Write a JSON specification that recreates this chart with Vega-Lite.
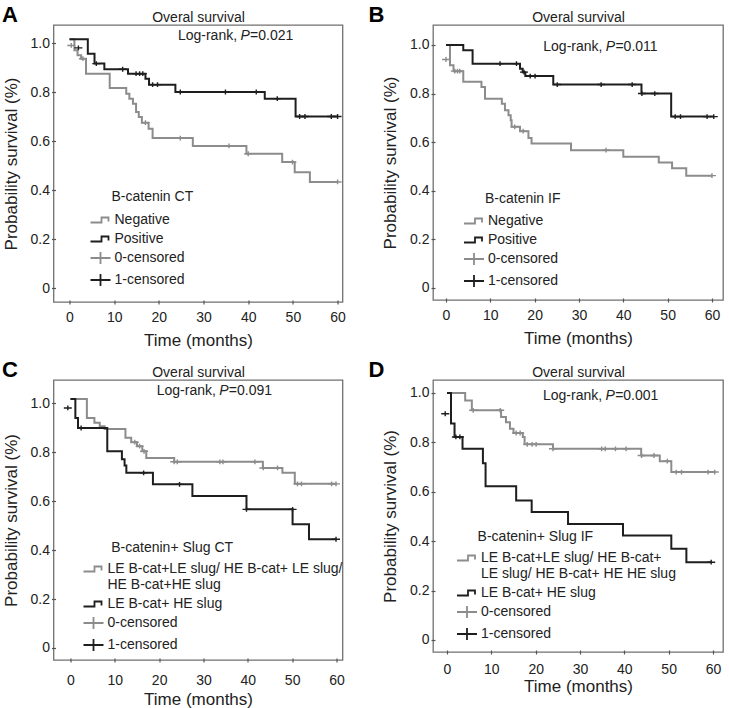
{
  "$schema": "https://vega.github.io/schema/vega-lite/v6.json",
  "padding": {"left": 0.5, "top": 3, "right": 0, "bottom": 0},
  "background": "white",
  "config": {
    "font": "Liberation Sans",
    "view": {"stroke": "#707070", "strokeWidth": 1.3},
    "axis": {"grid": false, "domain": false, "labelFontSize": 14, "labelColor": "#222", "titleFontSize": 17, "titleFontWeight": "normal", "titleColor": "#222", "tickColor": "#555", "tickSize": 4, "tickWidth": 1.2},
    "axisBottom": {"offset": -2, "labelPadding": 6, "titlePadding": 8},
    "axisLeft": {"offset": -2, "labelPadding": 2, "titlePadding": 10},
    "axisTop": {"titlePadding": 1, "titleFontSize": 14},
    "legend": {"labelFontSize": 14, "labelColor": "#222", "labelLimit": 400, "rowPadding": 1, "symbolSize": 400, "symbolStrokeWidth": 1.8, "labelOffset": 3, "padding": 0, "symbolOpacity": 1},
    "title": {"fontSize": 22, "fontWeight": "bold", "anchor": "start", "frame": "bounds", "offset": -17, "color": "#000"},
    "text": {"fontSize": 14, "color": "#222"}
  },
  "columns": 2,
  "spacing": {"row": 9, "column": 20.5},
  "resolve": {"scale": {"stroke": "independent", "shape": "independent"}, "legend": {"stroke": "independent", "shape": "independent"}},
  "datasets": {
    "A_lines": [
      {"t": 0, "s": 1.015, "k": "Negative"}, {"t": 1.1, "s": 0.97, "k": "Negative"}, {"t": 1.8, "s": 0.95, "k": "Negative"}, {"t": 2.6, "s": 0.936, "k": "Negative"}, {"t": 3.7, "s": 0.875, "k": "Negative"}, {"t": 9.0, "s": 0.816, "k": "Negative"}, {"t": 12.7, "s": 0.793, "k": "Negative"}, {"t": 13.4, "s": 0.773, "k": "Negative"}, {"t": 14.2, "s": 0.752, "k": "Negative"}, {"t": 14.9, "s": 0.718, "k": "Negative"}, {"t": 15.5, "s": 0.698, "k": "Negative"}, {"t": 16.2, "s": 0.675, "k": "Negative"}, {"t": 17.7, "s": 0.65, "k": "Negative"}, {"t": 18.6, "s": 0.612, "k": "Negative"}, {"t": 27.6, "s": 0.58, "k": "Negative"}, {"t": 39.6, "s": 0.548, "k": "Negative"}, {"t": 47.6, "s": 0.514, "k": "Negative"}, {"t": 50.4, "s": 0.473, "k": "Negative"}, {"t": 53.8, "s": 0.433, "k": "Negative"}, {"t": 60, "s": 0.433, "k": "Negative"},
      {"t": 0, "s": 1.015, "k": "Positive"}, {"t": 4.1, "s": 0.956, "k": "Positive"}, {"t": 5.6, "s": 0.916, "k": "Positive"}, {"t": 7.8, "s": 0.893, "k": "Positive"}, {"t": 13.1, "s": 0.875, "k": "Positive"}, {"t": 17.0, "s": 0.854, "k": "Positive"}, {"t": 17.8, "s": 0.83, "k": "Positive"}, {"t": 23.7, "s": 0.80, "k": "Positive"}, {"t": 43.7, "s": 0.773, "k": "Positive"}, {"t": 50.6, "s": 0.70, "k": "Positive"}, {"t": 60, "s": 0.70, "k": "Positive"}
    ],
    "A_cens": [
      {"t": 0.4, "s": 0.99, "k": "0-censored"}, {"t": 3.0, "s": 0.936, "k": "0-censored"}, {"t": 17.0, "s": 0.675, "k": "0-censored"}, {"t": 24.8, "s": 0.612, "k": "0-censored"}, {"t": 35.7, "s": 0.58, "k": "0-censored"}, {"t": 40.0, "s": 0.548, "k": "0-censored"}, {"t": 49.9, "s": 0.514, "k": "0-censored"}, {"t": 60, "s": 0.433, "k": "0-censored"},
      {"t": 2.0, "s": 0.98, "k": "1-censored"}, {"t": 6.0, "s": 0.916, "k": "1-censored"}, {"t": 11.9, "s": 0.893, "k": "1-censored"}, {"t": 14.9, "s": 0.875, "k": "1-censored"}, {"t": 15.7, "s": 0.875, "k": "1-censored"}, {"t": 16.4, "s": 0.875, "k": "1-censored"}, {"t": 18.6, "s": 0.83, "k": "1-censored"}, {"t": 19.7, "s": 0.83, "k": "1-censored"}, {"t": 24.8, "s": 0.80, "k": "1-censored"}, {"t": 34.9, "s": 0.80, "k": "1-censored"}, {"t": 41.8, "s": 0.80, "k": "1-censored"}, {"t": 46.5, "s": 0.773, "k": "1-censored"}, {"t": 51.5, "s": 0.70, "k": "1-censored"}, {"t": 52.7, "s": 0.70, "k": "1-censored"}, {"t": 58.6, "s": 0.70, "k": "1-censored"}, {"t": 60, "s": 0.70, "k": "1-censored"}
    ],
    "B_lines": [
      {"t": 0, "s": 1.0, "k": "Negative"}, {"t": 0.9, "s": 0.916, "k": "Negative"}, {"t": 1.7, "s": 0.892, "k": "Negative"}, {"t": 3.9, "s": 0.848, "k": "Negative"}, {"t": 8.0, "s": 0.827, "k": "Negative"}, {"t": 8.8, "s": 0.779, "k": "Negative"}, {"t": 12.6, "s": 0.758, "k": "Negative"}, {"t": 13.3, "s": 0.731, "k": "Negative"}, {"t": 14.1, "s": 0.711, "k": "Negative"}, {"t": 14.6, "s": 0.69, "k": "Negative"}, {"t": 14.8, "s": 0.663, "k": "Negative"}, {"t": 16.7, "s": 0.645, "k": "Negative"}, {"t": 18.6, "s": 0.617, "k": "Negative"}, {"t": 19.3, "s": 0.594, "k": "Negative"}, {"t": 28.2, "s": 0.567, "k": "Negative"}, {"t": 40.0, "s": 0.54, "k": "Negative"}, {"t": 48.0, "s": 0.516, "k": "Negative"}, {"t": 51.0, "s": 0.492, "k": "Negative"}, {"t": 54.2, "s": 0.462, "k": "Negative"}, {"t": 60, "s": 0.462, "k": "Negative"},
      {"t": 0, "s": 1.0, "k": "Positive"}, {"t": 3.9, "s": 0.978, "k": "Positive"}, {"t": 6.0, "s": 0.923, "k": "Positive"}, {"t": 16.7, "s": 0.902, "k": "Positive"}, {"t": 17.3, "s": 0.888, "k": "Positive"}, {"t": 17.9, "s": 0.872, "k": "Positive"}, {"t": 24.2, "s": 0.837, "k": "Positive"}, {"t": 44.1, "s": 0.80, "k": "Positive"}, {"t": 50.8, "s": 0.705, "k": "Positive"}, {"t": 60.4, "s": 0.705, "k": "Positive"}
    ],
    "B_cens": [
      {"t": 0, "s": 0.94, "k": "0-censored"}, {"t": 2.0, "s": 0.892, "k": "0-censored"}, {"t": 2.6, "s": 0.892, "k": "0-censored"}, {"t": 3.1, "s": 0.892, "k": "0-censored"}, {"t": 15.5, "s": 0.663, "k": "0-censored"}, {"t": 17.4, "s": 0.645, "k": "0-censored"}, {"t": 36.1, "s": 0.567, "k": "0-censored"}, {"t": 60, "s": 0.462, "k": "0-censored"},
      {"t": 12.2, "s": 0.923, "k": "1-censored"}, {"t": 15.9, "s": 0.923, "k": "1-censored"}, {"t": 17.6, "s": 0.888, "k": "1-censored"}, {"t": 19.0, "s": 0.872, "k": "1-censored"}, {"t": 20.1, "s": 0.872, "k": "1-censored"}, {"t": 25.1, "s": 0.837, "k": "1-censored"}, {"t": 35.0, "s": 0.837, "k": "1-censored"}, {"t": 42.0, "s": 0.837, "k": "1-censored"}, {"t": 44.2, "s": 0.80, "k": "1-censored"}, {"t": 47.1, "s": 0.80, "k": "1-censored"}, {"t": 51.7, "s": 0.705, "k": "1-censored"}, {"t": 52.9, "s": 0.705, "k": "1-censored"}, {"t": 58.9, "s": 0.705, "k": "1-censored"}, {"t": 60.4, "s": 0.705, "k": "1-censored"}
    ],
    "C_lines": [
      {"t": 0, "s": 1.016, "k": "LE B-cat+LE slug/ HE B-cat+ LE slug/ HE B-cat+HE slug"}, {"t": 3.7, "s": 0.939, "k": "LE B-cat+LE slug/ HE B-cat+ LE slug/ HE B-cat+HE slug"}, {"t": 5.4, "s": 0.919, "k": "LE B-cat+LE slug/ HE B-cat+ LE slug/ HE B-cat+HE slug"}, {"t": 6.6, "s": 0.905, "k": "LE B-cat+LE slug/ HE B-cat+ LE slug/ HE B-cat+HE slug"}, {"t": 7.7, "s": 0.894, "k": "LE B-cat+LE slug/ HE B-cat+ LE slug/ HE B-cat+HE slug"}, {"t": 12.4, "s": 0.858, "k": "LE B-cat+LE slug/ HE B-cat+ LE slug/ HE B-cat+HE slug"}, {"t": 13.7, "s": 0.84, "k": "LE B-cat+LE slug/ HE B-cat+ LE slug/ HE B-cat+HE slug"}, {"t": 15.0, "s": 0.824, "k": "LE B-cat+LE slug/ HE B-cat+ LE slug/ HE B-cat+HE slug"}, {"t": 16.2, "s": 0.803, "k": "LE B-cat+LE slug/ HE B-cat+ LE slug/ HE B-cat+HE slug"}, {"t": 17.1, "s": 0.776, "k": "LE B-cat+LE slug/ HE B-cat+ LE slug/ HE B-cat+HE slug"}, {"t": 23.4, "s": 0.76, "k": "LE B-cat+LE slug/ HE B-cat+ LE slug/ HE B-cat+HE slug"}, {"t": 43.4, "s": 0.735, "k": "LE B-cat+LE slug/ HE B-cat+ LE slug/ HE B-cat+HE slug"}, {"t": 47.8, "s": 0.715, "k": "LE B-cat+LE slug/ HE B-cat+ LE slug/ HE B-cat+HE slug"}, {"t": 50.6, "s": 0.67, "k": "LE B-cat+LE slug/ HE B-cat+ LE slug/ HE B-cat+HE slug"}, {"t": 59.9, "s": 0.67, "k": "LE B-cat+LE slug/ HE B-cat+ LE slug/ HE B-cat+HE slug"},
      {"t": 0, "s": 1.016, "k": "LE B-cat+ HE slug"}, {"t": 1.1, "s": 0.939, "k": "LE B-cat+ HE slug"}, {"t": 1.7, "s": 0.898, "k": "LE B-cat+ HE slug"}, {"t": 8.3, "s": 0.803, "k": "LE B-cat+ HE slug"}, {"t": 11.6, "s": 0.77, "k": "LE B-cat+ HE slug"}, {"t": 12.2, "s": 0.745, "k": "LE B-cat+ HE slug"}, {"t": 12.6, "s": 0.715, "k": "LE B-cat+ HE slug"}, {"t": 18.6, "s": 0.668, "k": "LE B-cat+ HE slug"}, {"t": 27.5, "s": 0.62, "k": "LE B-cat+ HE slug"}, {"t": 39.7, "s": 0.566, "k": "LE B-cat+ HE slug"}, {"t": 50.1, "s": 0.505, "k": "LE B-cat+ HE slug"}, {"t": 53.8, "s": 0.444, "k": "LE B-cat+ HE slug"}, {"t": 59.9, "s": 0.444, "k": "LE B-cat+ HE slug"}
    ],
    "C_cens": [
      {"t": 14.5, "s": 0.84, "k": "0-censored"}, {"t": 15.6, "s": 0.824, "k": "0-censored"}, {"t": 16.6, "s": 0.803, "k": "0-censored"}, {"t": 23.4, "s": 0.76, "k": "0-censored"}, {"t": 24.1, "s": 0.76, "k": "0-censored"}, {"t": 33.7, "s": 0.76, "k": "0-censored"}, {"t": 34.4, "s": 0.76, "k": "0-censored"}, {"t": 41.6, "s": 0.76, "k": "0-censored"}, {"t": 43.5, "s": 0.735, "k": "0-censored"}, {"t": 46.7, "s": 0.735, "k": "0-censored"}, {"t": 51.2, "s": 0.67, "k": "0-censored"}, {"t": 52.1, "s": 0.67, "k": "0-censored"}, {"t": 58.9, "s": 0.67, "k": "0-censored"}, {"t": 59.9, "s": 0.67, "k": "0-censored"},
      {"t": -0.6, "s": 0.98, "k": "1-censored"}, {"t": 2.4, "s": 0.898, "k": "1-censored"}, {"t": 16.5, "s": 0.715, "k": "1-censored"}, {"t": 24.6, "s": 0.668, "k": "1-censored"}, {"t": 39.7, "s": 0.566, "k": "1-censored"}, {"t": 50.1, "s": 0.566, "k": "1-censored"}, {"t": 59.9, "s": 0.444, "k": "1-censored"}
    ],
    "D_lines": [
      {"t": 0, "s": 1.0, "k": "LE B-cat+LE slug/ HE B-cat+ LE slug/ HE B-cat+ HE HE slug"}, {"t": 4.1, "s": 0.97, "k": "LE B-cat+LE slug/ HE B-cat+ LE slug/ HE B-cat+ HE HE slug"}, {"t": 5.6, "s": 0.93, "k": "LE B-cat+LE slug/ HE B-cat+ LE slug/ HE B-cat+ HE HE slug"}, {"t": 12.2, "s": 0.903, "k": "LE B-cat+LE slug/ HE B-cat+ LE slug/ HE B-cat+ HE HE slug"}, {"t": 13.3, "s": 0.882, "k": "LE B-cat+LE slug/ HE B-cat+ LE slug/ HE B-cat+ HE HE slug"}, {"t": 14.2, "s": 0.855, "k": "LE B-cat+LE slug/ HE B-cat+ LE slug/ HE B-cat+ HE HE slug"}, {"t": 15.0, "s": 0.838, "k": "LE B-cat+LE slug/ HE B-cat+ LE slug/ HE B-cat+ HE HE slug"}, {"t": 17.1, "s": 0.822, "k": "LE B-cat+LE slug/ HE B-cat+ LE slug/ HE B-cat+ HE HE slug"}, {"t": 17.5, "s": 0.792, "k": "LE B-cat+LE slug/ HE B-cat+ LE slug/ HE B-cat+ HE HE slug"}, {"t": 23.9, "s": 0.774, "k": "LE B-cat+LE slug/ HE B-cat+ LE slug/ HE B-cat+ HE HE slug"}, {"t": 43.8, "s": 0.747, "k": "LE B-cat+LE slug/ HE B-cat+ LE slug/ HE B-cat+ HE HE slug"}, {"t": 48.0, "s": 0.724, "k": "LE B-cat+LE slug/ HE B-cat+ LE slug/ HE B-cat+ HE HE slug"}, {"t": 50.6, "s": 0.68, "k": "LE B-cat+LE slug/ HE B-cat+ LE slug/ HE B-cat+ HE HE slug"}, {"t": 60.4, "s": 0.68, "k": "LE B-cat+LE slug/ HE B-cat+ LE slug/ HE B-cat+ HE HE slug"},
      {"t": 0, "s": 1.0, "k": "LE B-cat+ HE slug"}, {"t": 0.9, "s": 0.876, "k": "LE B-cat+ HE slug"}, {"t": 1.7, "s": 0.822, "k": "LE B-cat+ HE slug"}, {"t": 3.5, "s": 0.774, "k": "LE B-cat+ HE slug"}, {"t": 8.1, "s": 0.716, "k": "LE B-cat+ HE slug"}, {"t": 8.7, "s": 0.622, "k": "LE B-cat+ HE slug"}, {"t": 15.6, "s": 0.565, "k": "LE B-cat+ HE slug"}, {"t": 19.1, "s": 0.518, "k": "LE B-cat+ HE slug"}, {"t": 27.3, "s": 0.47, "k": "LE B-cat+ HE slug"}, {"t": 39.7, "s": 0.423, "k": "LE B-cat+ HE slug"}, {"t": 50.6, "s": 0.369, "k": "LE B-cat+ HE slug"}, {"t": 54.0, "s": 0.315, "k": "LE B-cat+ HE slug"}, {"t": 59.6, "s": 0.315, "k": "LE B-cat+ HE slug"}
    ],
    "D_cens": [
      {"t": 5.9, "s": 0.93, "k": "0-censored"}, {"t": 12.0, "s": 0.93, "k": "0-censored"}, {"t": 15.6, "s": 0.838, "k": "0-censored"}, {"t": 16.5, "s": 0.838, "k": "0-censored"}, {"t": 18.1, "s": 0.792, "k": "0-censored"}, {"t": 19.2, "s": 0.792, "k": "0-censored"}, {"t": 20.1, "s": 0.792, "k": "0-censored"}, {"t": 23.9, "s": 0.774, "k": "0-censored"}, {"t": 34.9, "s": 0.774, "k": "0-censored"}, {"t": 35.7, "s": 0.774, "k": "0-censored"}, {"t": 38.0, "s": 0.774, "k": "0-censored"}, {"t": 40.4, "s": 0.774, "k": "0-censored"}, {"t": 43.9, "s": 0.747, "k": "0-censored"}, {"t": 46.7, "s": 0.747, "k": "0-censored"}, {"t": 49.7, "s": 0.724, "k": "0-censored"}, {"t": 51.7, "s": 0.68, "k": "0-censored"}, {"t": 52.9, "s": 0.68, "k": "0-censored"}, {"t": 58.9, "s": 0.68, "k": "0-censored"}, {"t": 60.4, "s": 0.68, "k": "0-censored"},
      {"t": -0.4, "s": 0.916, "k": "1-censored"}, {"t": 2.0, "s": 0.822, "k": "1-censored"}, {"t": 2.9, "s": 0.822, "k": "1-censored"}, {"t": 59.6, "s": 0.315, "k": "1-censored"}
    ]
  },
  "concat": [
    {
      "width": 289, "height": 277,
      "title": {"text": "A", "dx": 0},
      "resolve": {"axis": {"x": "independent", "y": "independent"}},
      "layer": [
        {"data": {"name": "A_lines"},
         "mark": {"type": "line", "interpolate": "step-after", "strokeWidth": 2},
         "encoding": {
           "x": {"field": "t", "type": "quantitative", "scale": {"domain": [-3.58, 61.1], "nice": false, "zero": false}, "axis": {"values": [0, 10, 20, 30, 40, 50, 60], "title": "Time (months)"}},
           "y": {"field": "s", "type": "quantitative", "scale": {"domain": [-0.057, 1.0735], "nice": false, "zero": false}, "axis": {"values": [0, 0.2, 0.4, 0.6, 0.8, 1], "labelExpr": "datum.value == 0 ? '0' : format(datum.value, '.1f')", "title": "Probability survival (%)"}},
           "stroke": {"field": "k", "type": "nominal", "scale": {"domain": ["Negative", "Positive", "0-censored", "1-censored"], "range": ["#8c8c8c", "#1e1e1e", "#8c8c8c", "#1e1e1e"]}, "legend": {"orient": "none", "legendX": 36, "legendY": 184, "title": null}}
         }},
        {"data": {"name": "A_cens"},
         "mark": {"type": "point", "filled": false, "size": 64, "strokeWidth": 1.4, "opacity": 1},
         "encoding": {
           "x": {"field": "t", "type": "quantitative", "axis": {"orient": "top", "title": "Overal survival", "labels": false, "ticks": false, "domain": false}},
           "y": {"field": "s", "type": "quantitative", "axis": null},
           "stroke": {"field": "k", "type": "nominal", "scale": {"domain": ["Negative", "Positive", "0-censored", "1-censored"], "range": ["#8c8c8c", "#1e1e1e", "#8c8c8c", "#1e1e1e"]}, "legend": {"orient": "none", "legendX": 36, "legendY": 184, "title": null}},
           "shape": {"field": "k", "type": "nominal", "scale": {"domain": ["Negative", "Positive", "0-censored", "1-censored"], "range": ["M-1,0.25L0.1,0.25L0.1,-0.25L0.8,-0.25L0.8,0.15", "M-1,0.25L0.1,0.25L0.1,-0.25L0.8,-0.25L0.8,0.15", "M-1,0L1,0M0,-0.6L0,0.6", "M-1,0L1,0M0,-0.6L0,0.6"]}, "legend": {"orient": "none", "legendX": 36, "legendY": 184, "title": null}}
         }},
        {"data": {"values": [{"t": 39.3, "s": 1.027, "a": "Log-rank,", "p": "P", "b": "=0.021", "g": "B-catenin CT", "gt": 9.4, "gs": 0.371}]},
         "layer": [
           {"mark": {"type": "text", "align": "right", "baseline": "middle", "dx": -8}, "encoding": {"x": {"field": "t", "type": "quantitative", "axis": null}, "y": {"field": "s", "type": "quantitative", "axis": null}, "text": {"field": "a"}}},
           {"mark": {"type": "text", "align": "center", "baseline": "middle", "fontStyle": "italic"}, "encoding": {"x": {"field": "t", "type": "quantitative", "axis": null}, "y": {"field": "s", "type": "quantitative", "axis": null}, "text": {"field": "p"}}},
           {"mark": {"type": "text", "align": "left", "baseline": "middle", "dx": 5}, "encoding": {"x": {"field": "t", "type": "quantitative", "axis": null}, "y": {"field": "s", "type": "quantitative", "axis": null}, "text": {"field": "b"}}},
           {"mark": {"type": "text", "align": "left", "baseline": "middle"}, "encoding": {"x": {"field": "gt", "type": "quantitative", "axis": null}, "y": {"field": "gs", "type": "quantitative", "axis": null}, "text": {"field": "g"}}}
         ]}
      ]
    },
    {
      "width": 290, "height": 275,
      "title": {"text": "B", "dx": -13},
      "resolve": {"axis": {"x": "independent", "y": "independent"}},
      "layer": [
        {"data": {"name": "B_lines"},
         "mark": {"type": "line", "interpolate": "step-after", "strokeWidth": 2},
         "encoding": {
           "x": {"field": "t", "type": "quantitative", "scale": {"domain": [-2.93, 62.49], "nice": false, "zero": false}, "axis": {"values": [0, 10, 20, 30, 40, 50, 60], "title": "Time (months)"}},
           "y": {"field": "s", "type": "quantitative", "scale": {"domain": [-0.0497, 1.082], "nice": false, "zero": false}, "axis": {"values": [0, 0.2, 0.4, 0.6, 0.8, 1], "labelExpr": "datum.value == 0 ? '0' : format(datum.value, '.1f')", "title": "Probability survival (%)"}},
           "stroke": {"field": "k", "type": "nominal", "scale": {"domain": ["Negative", "Positive", "0-censored", "1-censored"], "range": ["#8c8c8c", "#1e1e1e", "#8c8c8c", "#1e1e1e"]}, "legend": {"orient": "none", "legendX": 30, "legendY": 185, "title": null}}
         }},
        {"data": {"name": "B_cens"},
         "mark": {"type": "point", "filled": false, "size": 64, "strokeWidth": 1.4, "opacity": 1},
         "encoding": {
           "x": {"field": "t", "type": "quantitative", "axis": {"orient": "top", "title": "Overal survival", "labels": false, "ticks": false, "domain": false}},
           "y": {"field": "s", "type": "quantitative", "axis": null},
           "stroke": {"field": "k", "type": "nominal", "scale": {"domain": ["Negative", "Positive", "0-censored", "1-censored"], "range": ["#8c8c8c", "#1e1e1e", "#8c8c8c", "#1e1e1e"]}, "legend": {"orient": "none", "legendX": 30, "legendY": 185, "title": null}},
           "shape": {"field": "k", "type": "nominal", "scale": {"domain": ["Negative", "Positive", "0-censored", "1-censored"], "range": ["M-1,0.25L0.1,0.25L0.1,-0.25L0.8,-0.25L0.8,0.15", "M-1,0.25L0.1,0.25L0.1,-0.25L0.8,-0.25L0.8,0.15", "M-1,0L1,0M0,-0.6L0,0.6", "M-1,0L1,0M0,-0.6L0,0.6"]}, "legend": {"orient": "none", "legendX": 30, "legendY": 185, "title": null}}
         }},
        {"data": {"values": [{"t": 37.1, "s": 0.99, "a": "Log-rank,", "p": "P", "b": "=0.011", "g": "B-catenin IF", "gt": 8.8, "gs": 0.366}]},
         "layer": [
           {"mark": {"type": "text", "align": "right", "baseline": "middle", "dx": -8}, "encoding": {"x": {"field": "t", "type": "quantitative", "axis": null}, "y": {"field": "s", "type": "quantitative", "axis": null}, "text": {"field": "a"}}},
           {"mark": {"type": "text", "align": "center", "baseline": "middle", "fontStyle": "italic"}, "encoding": {"x": {"field": "t", "type": "quantitative", "axis": null}, "y": {"field": "s", "type": "quantitative", "axis": null}, "text": {"field": "p"}}},
           {"mark": {"type": "text", "align": "left", "baseline": "middle", "dx": 5}, "encoding": {"x": {"field": "t", "type": "quantitative", "axis": null}, "y": {"field": "s", "type": "quantitative", "axis": null}, "text": {"field": "b"}}},
           {"mark": {"type": "text", "align": "left", "baseline": "middle"}, "encoding": {"x": {"field": "gt", "type": "quantitative", "axis": null}, "y": {"field": "gs", "type": "quantitative", "axis": null}, "text": {"field": "g"}}}
         ]}
      ]
    },
    {
      "width": 289, "height": 280,
      "title": {"text": "C", "dx": 0},
      "resolve": {"axis": {"x": "independent", "y": "independent"}},
      "layer": [
        {"data": {"name": "C_lines"},
         "mark": {"type": "line", "interpolate": "step-after", "strokeWidth": 2},
         "encoding": {
           "x": {"field": "t", "type": "quantitative", "scale": {"domain": [-3.83, 61.36], "nice": false, "zero": false}, "axis": {"values": [0, 10, 20, 30, 40, 50, 60], "title": "Time (months)", "labelPadding": 11, "titlePadding": 4}},
           "y": {"field": "s", "type": "quantitative", "scale": {"domain": [-0.049, 1.094], "nice": false, "zero": false}, "axis": {"values": [0, 0.2, 0.4, 0.6, 0.8, 1], "labelExpr": "datum.value == 0 ? '0' : format(datum.value, '.1f')", "title": "Probability survival (%)"}},
           "stroke": {"field": "k", "type": "nominal", "scale": {"domain": ["LE B-cat+LE slug/ HE B-cat+ LE slug/ HE B-cat+HE slug", "LE B-cat+ HE slug", "0-censored", "1-censored"], "range": ["#8c8c8c", "#1e1e1e", "#8c8c8c", "#1e1e1e"]}, "legend": {"orient": "none", "legendX": 29, "legendY": 178, "title": null, "labelExpr": "datum.label == 'LE B-cat+LE slug/ HE B-cat+ LE slug/ HE B-cat+HE slug' ? ['LE B-cat+LE slug/ HE B-cat+ LE slug/', 'HE B-cat+HE slug'] : datum.label"}}
         }},
        {"data": {"name": "C_cens"},
         "mark": {"type": "point", "filled": false, "size": 64, "strokeWidth": 1.4, "opacity": 1},
         "encoding": {
           "x": {"field": "t", "type": "quantitative", "axis": {"orient": "top", "title": "Overal survival", "labels": false, "ticks": false, "domain": false}},
           "y": {"field": "s", "type": "quantitative", "axis": null},
           "stroke": {"field": "k", "type": "nominal", "scale": {"domain": ["LE B-cat+LE slug/ HE B-cat+ LE slug/ HE B-cat+HE slug", "LE B-cat+ HE slug", "0-censored", "1-censored"], "range": ["#8c8c8c", "#1e1e1e", "#8c8c8c", "#1e1e1e"]}, "legend": {"orient": "none", "legendX": 29, "legendY": 178, "title": null, "labelExpr": "datum.label == 'LE B-cat+LE slug/ HE B-cat+ LE slug/ HE B-cat+HE slug' ? ['LE B-cat+LE slug/ HE B-cat+ LE slug/', 'HE B-cat+HE slug'] : datum.label"}},
           "shape": {"field": "k", "type": "nominal", "scale": {"domain": ["LE B-cat+LE slug/ HE B-cat+ LE slug/ HE B-cat+HE slug", "LE B-cat+ HE slug", "0-censored", "1-censored"], "range": ["M-1,0.25L0.1,0.25L0.1,-0.25L0.8,-0.25L0.8,0.15", "M-1,0.25L0.1,0.25L0.1,-0.25L0.8,-0.25L0.8,0.15", "M-1,0L1,0M0,-0.6L0,0.6", "M-1,0L1,0M0,-0.6L0,0.6"]}, "legend": {"orient": "none", "legendX": 29, "legendY": 178, "title": null, "labelExpr": "datum.label == 'LE B-cat+LE slug/ HE B-cat+ LE slug/ HE B-cat+HE slug' ? ['LE B-cat+LE slug/ HE B-cat+ LE slug/', 'HE B-cat+HE slug'] : datum.label"}}
         }},
        {"data": {"values": [{"t": 34.6, "s": 1.05, "a": "Log-rank,", "p": "P", "b": "=0.091", "g": "B-catenin+ Slug CT", "gt": 9.2, "gs": 0.408}]},
         "layer": [
           {"mark": {"type": "text", "align": "right", "baseline": "middle", "dx": -8}, "encoding": {"x": {"field": "t", "type": "quantitative", "axis": null}, "y": {"field": "s", "type": "quantitative", "axis": null}, "text": {"field": "a"}}},
           {"mark": {"type": "text", "align": "center", "baseline": "middle", "fontStyle": "italic"}, "encoding": {"x": {"field": "t", "type": "quantitative", "axis": null}, "y": {"field": "s", "type": "quantitative", "axis": null}, "text": {"field": "p"}}},
           {"mark": {"type": "text", "align": "left", "baseline": "middle", "dx": 5}, "encoding": {"x": {"field": "t", "type": "quantitative", "axis": null}, "y": {"field": "s", "type": "quantitative", "axis": null}, "text": {"field": "b"}}},
           {"mark": {"type": "text", "align": "left", "baseline": "middle"}, "encoding": {"x": {"field": "gt", "type": "quantitative", "axis": null}, "y": {"field": "gs", "type": "quantitative", "axis": null}, "text": {"field": "g"}}}
         ]}
      ]
    },
    {
      "width": 290, "height": 272,
      "title": {"text": "D", "dx": -13},
      "resolve": {"axis": {"x": "independent", "y": "independent"}},
      "layer": [
        {"data": {"name": "D_lines"},
         "mark": {"type": "line", "interpolate": "step-after", "strokeWidth": 2},
         "encoding": {
           "x": {"field": "t", "type": "quantitative", "scale": {"domain": [-3.16, 62.26], "nice": false, "zero": false}, "axis": {"values": [0, 10, 20, 30, 40, 50, 60], "title": "Time (months)", "labelPadding": 8, "titlePadding": 2}},
           "y": {"field": "s", "type": "quantitative", "scale": {"domain": [-0.0486, 1.0526], "nice": false, "zero": false}, "axis": {"values": [0, 0.2, 0.4, 0.6, 0.8, 1], "labelExpr": "datum.value == 0 ? '0' : format(datum.value, '.1f')", "title": "Probability survival (%)"}},
           "stroke": {"field": "k", "type": "nominal", "scale": {"domain": ["LE B-cat+LE slug/ HE B-cat+ LE slug/ HE B-cat+ HE HE slug", "LE B-cat+ HE slug", "0-censored", "1-censored"], "range": ["#8c8c8c", "#1e1e1e", "#8c8c8c", "#1e1e1e"]}, "legend": {"orient": "none", "legendX": 23, "legendY": 167, "title": null, "labelExpr": "datum.label == 'LE B-cat+LE slug/ HE B-cat+ LE slug/ HE B-cat+ HE HE slug' ? ['LE B-cat+LE slug/ HE B-cat+', 'LE slug/ HE B-cat+ HE HE slug'] : datum.label"}}
         }},
        {"data": {"name": "D_cens"},
         "mark": {"type": "point", "filled": false, "size": 64, "strokeWidth": 1.4, "opacity": 1},
         "encoding": {
           "x": {"field": "t", "type": "quantitative", "axis": {"orient": "top", "title": "Overal survival", "labels": false, "ticks": false, "domain": false}},
           "y": {"field": "s", "type": "quantitative", "axis": null},
           "stroke": {"field": "k", "type": "nominal", "scale": {"domain": ["LE B-cat+LE slug/ HE B-cat+ LE slug/ HE B-cat+ HE HE slug", "LE B-cat+ HE slug", "0-censored", "1-censored"], "range": ["#8c8c8c", "#1e1e1e", "#8c8c8c", "#1e1e1e"]}, "legend": {"orient": "none", "legendX": 23, "legendY": 167, "title": null, "labelExpr": "datum.label == 'LE B-cat+LE slug/ HE B-cat+ LE slug/ HE B-cat+ HE HE slug' ? ['LE B-cat+LE slug/ HE B-cat+', 'LE slug/ HE B-cat+ HE HE slug'] : datum.label"}},
           "shape": {"field": "k", "type": "nominal", "scale": {"domain": ["LE B-cat+LE slug/ HE B-cat+ LE slug/ HE B-cat+ HE HE slug", "LE B-cat+ HE slug", "0-censored", "1-censored"], "range": ["M-1,0.25L0.1,0.25L0.1,-0.25L0.8,-0.25L0.8,0.15", "M-1,0.25L0.1,0.25L0.1,-0.25L0.8,-0.25L0.8,0.15", "M-1,0L1,0M0,-0.6L0,0.6", "M-1,0L1,0M0,-0.6L0,0.6"]}, "legend": {"orient": "none", "legendX": 23, "legendY": 167, "title": null, "labelExpr": "datum.label == 'LE B-cat+LE slug/ HE B-cat+ LE slug/ HE B-cat+ HE HE slug' ? ['LE B-cat+LE slug/ HE B-cat+', 'LE slug/ HE B-cat+ HE HE slug'] : datum.label"}}
         }},
        {"data": {"values": [{"t": 36.8, "s": 0.988, "a": "Log-rank,", "p": "P", "b": "=0.001", "g": "B-catenin+ Slug IF", "gt": 6.9, "gs": 0.417}]},
         "layer": [
           {"mark": {"type": "text", "align": "right", "baseline": "middle", "dx": -8}, "encoding": {"x": {"field": "t", "type": "quantitative", "axis": null}, "y": {"field": "s", "type": "quantitative", "axis": null}, "text": {"field": "a"}}},
           {"mark": {"type": "text", "align": "center", "baseline": "middle", "fontStyle": "italic"}, "encoding": {"x": {"field": "t", "type": "quantitative", "axis": null}, "y": {"field": "s", "type": "quantitative", "axis": null}, "text": {"field": "p"}}},
           {"mark": {"type": "text", "align": "left", "baseline": "middle", "dx": 5}, "encoding": {"x": {"field": "t", "type": "quantitative", "axis": null}, "y": {"field": "s", "type": "quantitative", "axis": null}, "text": {"field": "b"}}},
           {"mark": {"type": "text", "align": "left", "baseline": "middle"}, "encoding": {"x": {"field": "gt", "type": "quantitative", "axis": null}, "y": {"field": "gs", "type": "quantitative", "axis": null}, "text": {"field": "g"}}}
         ]}
      ]
    }
  ]
}
